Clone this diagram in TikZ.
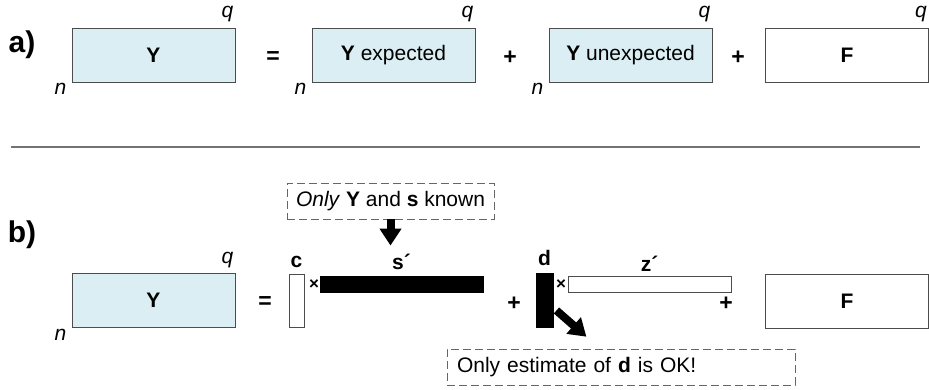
\documentclass[tikz,border=0pt]{standalone}
\usepackage{fontspec}
\setmainfont{Liberation Sans}
\usepackage{tikz}
\usetikzlibrary{arrows.meta, positioning}
\definecolor{MatFill}{HTML}{DAEEF3}
\colorlet{MatLine}{black!70}
\colorlet{NoteLine}{black!60}
\colorlet{RuleLine}{black!55}
\newcommand{\partsize}{\fontsize{30}{34}\selectfont}
\newcommand{\txtsize}{\fontsize{21}{25}\selectfont}

\begin{document}
\begin{tikzpicture}[
    x=1pt, y=-1pt,
    mat/.style={
        rectangle, minimum width=163pt, minimum height=54pt,
        draw=MatLine, line width=0.9pt, fill=MatFill,
        inner sep=0pt, font=\txtsize
    },
    resmat/.style={mat, fill=white},
    colvec/.style={rectangle, draw=MatLine, line width=0.9pt, fill=white,
        minimum width=15pt, minimum height=53pt, inner sep=0pt},
    rowvec/.style={rectangle, draw=MatLine, line width=0.9pt, fill=white,
        minimum width=163pt, minimum height=16pt, inner sep=0pt},
    solidcol/.style={colvec, fill=black, draw=black, minimum width=17pt, minimum height=54pt},
    solidrow/.style={rowvec, fill=black, draw=black},
    dimlbl/.style={font=\txtsize\itshape, inner sep=1pt},
    veclbl/.style={font=\txtsize\bfseries, inner sep=1pt},
    op/.style={font=\fontsize{23}{27}\selectfont\bfseries},
    tms/.style={font=\fontsize{17}{19}\selectfont\bfseries, inner sep=0pt},
    part/.style={font=\partsize\bfseries},
    note/.style={rectangle, draw=NoteLine, line width=0.9pt,
        dash pattern=on 8pt off 4pt, font=\txtsize, inner sep=0pt,
        minimum height=36pt},
    fatarr/.style={-{Triangle[length=17pt, width=21pt]}, line width=8pt}
]
\useasboundingbox (0,0) rectangle (929,389);

% ===================================================================
% PART a): decomposition of Y
% ===================================================================
\node[part] (lblA) at (22,45) {a)};

\node[mat] (Ya) at (153.5,55) {\textbf{Y}};
\node[dimlbl, above left=4pt and 1pt of Ya.north east] (qYa) {q};
\node[dimlbl, below left=0pt and 4pt of Ya.south west] (nYa) {n};

\node[op] (eqA) at (273,58) {=};

\node[mat] (Yexp) at (393.5,55) {\textbf{Y} expected};
\node[dimlbl, above left=4pt and 1pt of Yexp.north east] (qYexp) {q};
\node[dimlbl, below left=0pt and 4pt of Yexp.south west] (nYexp) {n};

\node[op] (plusA1) at (510,58) {+};

\node[mat] (Yunexp) at (630.5,55) {\textbf{Y} unexpected};
\node[dimlbl, above left=4pt and 1pt of Yunexp.north east] (qYunexp) {q};
\node[dimlbl, below left=0pt and 4pt of Yunexp.south west] (nYunexp) {n};

\node[op] (plusA2) at (738,58) {+};

\node[resmat] (Fa) at (847,55) {\textbf{F}};
\node[dimlbl, above left=4pt and 1pt of Fa.north east] (qFa) {q};

% separator
\draw[RuleLine, line width=1.5pt] (11,147) -- (920,147);

% ===================================================================
% PART b): rank-one model
% ===================================================================
\node[part] (lblB) at (22,235) {b)};

\node[mat] (Yb) at (153.5,300.5) {\textbf{Y}};
\node[dimlbl, above left=4pt and 1pt of Yb.north east] (qYb) {q};
\node[dimlbl, below left=0pt and 4pt of Yb.south west] (nYb) {n};

\node[op] (eqB) at (265,303) {=};

% c times s'
\node[colvec] (cvec) at (296.5,300.5) {};
\node[veclbl, above=5pt of cvec] (clbl) {c};
\node[tms] (tmsC) at (314,285) {×};
\node[solidrow] (svec) at (401.5,284) {};
\node[veclbl, above=5pt of svec] (slbl) {s´};

\node[note, minimum width=207pt] (known) at (390.5,201)
    {\textit{Only} \textbf{Y} and \textbf{s} known};
\draw[fatarr, shorten >=7pt] (known.south) -- (known.south |- slbl.north);

\node[op] (plusB1) at (514,304) {+};

% d times z'
\node[solidcol] (dvec) at (544.5,300) {};
\node[veclbl, above=6pt of dvec] (dlbl) {d};
\node[tms] (tmsD) at (561,285) {×};
\node[rowvec] (zvec) at (649.5,284) {};
\node[veclbl, above=3pt of zvec] (zlbl) {z´};

\node[op] (plusB2) at (726,304) {+};

\node[resmat] (Fb) at (847,301) {\textbf{F}};

\node[note, minimum width=348pt, text width=328pt, inner xsep=10pt,
      align=left] (estimate) at (621,367) {Only estimate of \textbf{d} is OK!};
\draw[fatarr, shorten <=4pt, shorten >=18pt] (dvec) -- (estimate);

\end{tikzpicture}
\end{document}
